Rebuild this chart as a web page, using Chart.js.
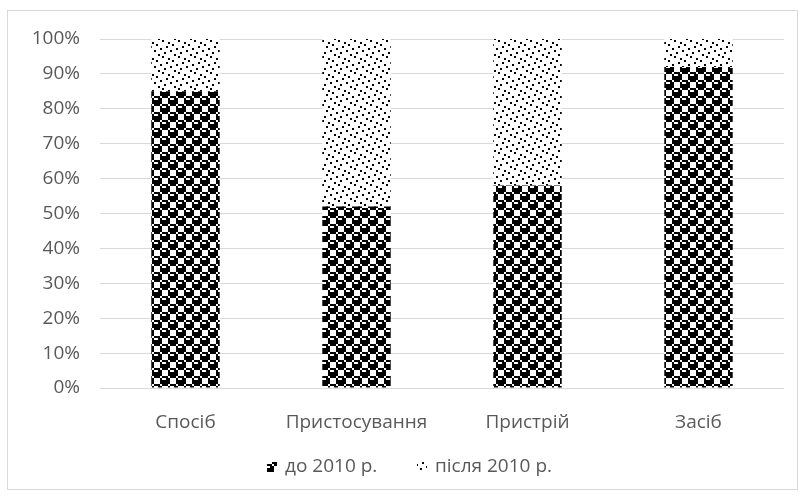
<!DOCTYPE html>
<html>
<head>
<meta charset="utf-8">
<script src="https://cdn.jsdelivr.net/npm/chart.js@4.4.1/dist/chart.umd.min.js"></script>
<style>
  html, body { margin: 0; padding: 0; background: #ffffff; }
  #wrap { width: 805px; height: 496px; }
</style>
</head>
<body>
<div id="wrap"><canvas id="chart" width="805" height="496"></canvas></div>
<script>
// Частка об'єктів винаходів за видами, %
const categories = ['Спосіб', 'Пристосування', 'Пристрій', 'Засіб'];
const seriesNames = ['до 2010 р.', 'після 2010 р.'];
const before2010 = [85, 52, 58, 92];
const after2010 = [15, 48, 42, 8];
const yTicks = [0, 10, 20, 30, 40, 50, 60, 70, 80, 90, 100];

const FONT = '"Open Sans", "Noto Sans", sans-serif';
const FONT_SIZE = 19;
const TEXT = '#595959';
const GRID = '#d9d9d9';

// Build a repeating fill from an 8x8 bit mask, each bit drawn as a 2x2 block
function bitPattern(rows) {
  const c = document.createElement('canvas');
  c.width = 16; c.height = 16;
  const g = c.getContext('2d');
  g.fillStyle = '#ffffff';
  g.fillRect(0, 0, 16, 16);
  g.fillStyle = '#000000';
  rows.forEach((bits, r) => {
    for (let col = 0; col < 8; col++) {
      if (bits & (0x80 >> col)) g.fillRect(col * 2, r * 2, 2, 2);
    }
  });
  return g.createPattern(c, 'repeat');
}

const SPHERE = [0x77, 0x89, 0x8f, 0x8f, 0x77, 0x98, 0xf8, 0xf8];
const CONFETTI = [0x80, 0x04, 0x20, 0x01, 0x40, 0x08, 0x02, 0x10];
const fills = [bitPattern(SPHERE), bitPattern(CONFETTI)];

// Light grey frame around the whole chart
const framePlugin = {
  id: 'frame',
  beforeDraw(chart) {
    const ctx = chart.ctx;
    ctx.save();
    ctx.fillStyle = '#ffffff';
    ctx.fillRect(0, 0, chart.width, chart.height);
    ctx.strokeStyle = GRID;
    ctx.lineWidth = 1;
    ctx.strokeRect(7.5, 10.5, 790, 479);
    ctx.restore();
  }
};

// Legend row below the axis
const legendRow = {
  id: 'legendRow',
  afterDraw(chart) {
    const ctx = chart.ctx;
    ctx.save();
    ctx.font = FONT_SIZE + 'px ' + FONT;
    ctx.textBaseline = 'middle';
    const box = 10, gapText = 8, slot = 150;
    let x = 267;
    const y = 467;
    chart.data.datasets.forEach((ds, i) => {
      const bx = x + i * slot;
      ctx.fillStyle = ds.backgroundColor;
      ctx.fillRect(bx, y - box / 2, box, box);
      ctx.fillStyle = TEXT;
      ctx.fillText(seriesNames[i], bx + box + gapText, y);
    });
    ctx.restore();
  }
};

new Chart(document.getElementById('chart'), {
  type: 'bar',
  data: {
    labels: categories,
    datasets: [
      { label: seriesNames[0], data: before2010, backgroundColor: fills[0], borderWidth: 0 },
      { label: seriesNames[1], data: after2010, backgroundColor: fills[1], borderWidth: 0 }
    ]
  },
  options: {
    responsive: false,
    animation: false,
    devicePixelRatio: 1,
    layout: { padding: { left: 0, right: 21, top: 39, bottom: 48 } },
    datasets: { bar: { barPercentage: 0.4, categoryPercentage: 1.0 } },
    plugins: {
      legend: { display: false },
      tooltip: { enabled: false }
    },
    scales: {
      x: {
        stacked: true,
        grid: { display: false },
        border: { display: false },
        ticks: { color: TEXT, font: { family: FONT, size: FONT_SIZE }, padding: 15, maxRotation: 0 },
        afterFit(scale) { scale.height = 60; }
      },
      y: {
        stacked: true,
        min: 0,
        max: 100,
        afterBuildTicks(scale) { scale.ticks = yTicks.map(v => ({ value: v })); },
        grid: { color: GRID, lineWidth: 1, drawTicks: false },
        border: { display: false },
        ticks: {
          color: TEXT,
          font: { family: FONT, size: FONT_SIZE },
          padding: 20,
          callback: v => v + '%'
        },
        afterFit(scale) { scale.width = 100; }
      }
    }
  },
  plugins: [framePlugin, legendRow]
});
</script>
</body>
</html>
